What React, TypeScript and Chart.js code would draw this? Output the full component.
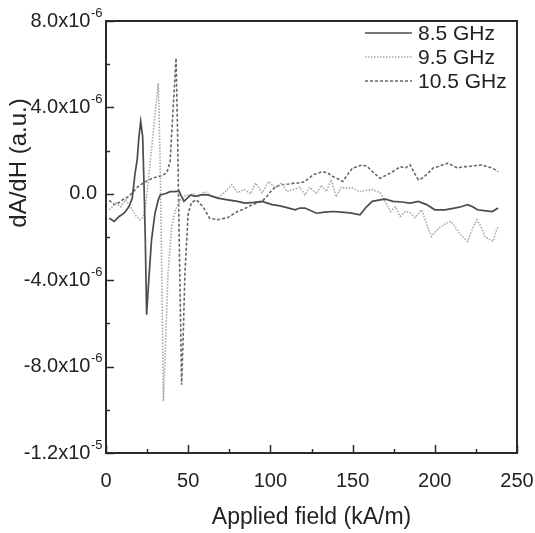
import React, { useEffect, useRef } from "react";
import { Chart, registerables } from "chart.js";

Chart.register(...registerables);

// Applied field (kA/m) and dA/dH in units of 1e-6 (a.u.)
const labels = ["8.5 GHz", "9.5 GHz", "10.5 GHz"];

const field85 = [2, 5, 8, 11, 14, 16, 17.6, 19, 20, 21.1, 22.3, 23.1, 23.9, 24.7, 26.3, 27.7, 29.8, 31.8, 33, 36, 39, 41.4, 44.4, 47.4, 51.5, 54, 58, 62, 68, 74, 80, 84.5, 90, 95, 101, 105, 109, 115, 118, 121, 128, 133, 138, 143, 148.4, 154.5, 158.6, 162, 166.7, 170, 174.6, 180, 185, 190, 195, 200, 206, 212, 216, 220, 223, 226, 230, 235, 238.5];
const dadh85 = [-1.13, -1.28, -1.05, -0.9, -0.59, -0.2, 0.9, 1.6, 2.6, 3.35, 2.65, 0.5, -2.1, -5.6, -3.66, -2.13, -0.9, -0.28, -0.05, 0.0, 0.1, 0.1, 0.12, -0.35, -0.05, -0.12, -0.05, -0.05, -0.2, -0.28, -0.35, -0.43, -0.4, -0.35, -0.5, -0.55, -0.62, -0.74, -0.66, -0.66, -0.9, -0.85, -0.82, -0.85, -0.88, -0.97, -0.59, -0.35, -0.28, -0.25, -0.35, -0.38, -0.43, -0.35, -0.5, -0.74, -0.74, -0.66, -0.6, -0.5, -0.6, -0.74, -0.78, -0.82, -0.66];

const field95 = [2, 6, 9, 12, 16, 18, 20.7, 22.5, 24, 26, 28, 30, 31.8, 32.8, 33.8, 34.9, 36, 37.7, 40, 42, 45, 48, 53, 56, 60, 64, 68, 72, 76.5, 80, 84, 88, 91, 95, 99, 103, 107, 110, 114, 118, 121, 124, 128, 131, 134, 137, 140, 143, 147, 150, 154, 158, 162, 166.7, 170, 173, 176, 179, 182, 185, 188, 192, 195, 198, 201, 204, 207, 210, 213, 216.5, 220, 223, 225.6, 228, 230.5, 233, 235.5, 237, 238.5];
const dadh95 = [-0.74, -0.43, -0.6, -0.28, -0.74, -1.0, -1.2, -1.1, -0.6, 0.8, 2.3, 3.8, 5.12, 2.0, -3.0, -9.6, -7.5, -3.7, -1.5, -0.8, -0.3, -0.1, 0.0, -0.15, 0.1, -0.1, -0.2, 0.05, 0.42, 0.05, 0.2, 0.0, 0.5, 0.05, 0.57, 0.28, 0.5, 0.1, 0.2, 0.3, -0.05, 0.3, 0.0, 0.4, 0.1, 0.65, -0.14, 0.3, 0.25, 0.28, 0.1, 0.15, 0.2, 0.05, -0.4, -0.82, -0.6, -1.05, -0.82, -0.88, -1.1, -0.74, -1.4, -1.97, -1.7, -1.5, -1.35, -1.28, -1.6, -1.97, -2.2, -1.6, -1.2, -1.5, -1.97, -2.1, -2.2, -1.8, -1.5];

const field105 = [2, 5, 8, 10, 14, 16.6, 19.6, 22.7, 25, 28.8, 32, 34.9, 37, 39, 40.5, 42.6, 43.5, 44.5, 46, 47, 48, 50, 52, 55, 59, 63, 68, 74, 80, 84, 89, 95, 98, 101, 104, 107, 111, 115, 118, 121, 126, 132, 135, 138, 141, 144, 147, 150, 156, 159, 162, 166.7, 170, 173, 176, 179, 182, 185, 188, 190, 193, 196, 199, 202, 205, 208, 211, 214, 217, 220, 224, 228.7, 232, 235, 238.5];
const dadh105 = [-0.3, -0.5, -0.4, -0.28, -0.12, 0.1, 0.34, 0.5, 0.6, 0.74, 0.8, 0.88, 0.97, 1.5, 3.5, 6.28, 3.0, -2.0, -8.84, -6.5, -3.7, -0.9, -0.4, -0.28, -0.6, -1.13, -1.2, -1.1, -0.82, -0.7, -0.5, -0.35, -0.1, 0.18, 0.35, 0.42, 0.45, 0.5, 0.5, 0.57, 0.88, 1.03, 0.95, 0.8, 0.7, 0.57, 0.9, 1.19, 1.34, 1.26, 1.03, 0.72, 0.85, 0.96, 1.1, 1.26, 1.19, 1.34, 0.9, 0.65, 0.75, 0.96, 1.2, 1.26, 1.35, 1.42, 1.3, 1.19, 1.25, 1.26, 1.3, 1.34, 1.25, 1.19, 1.03];

const xTicks = [0, 50, 100, 150, 200, 250];
const yTicks = [-12, -8, -4, 0, 4, 8];
const xTitle = "Applied field (kA/m)";
const yTitle = "dA/dH (a.u.)";

const colors = ["#4c4c4c", "#a8a8a8", "#666666"];
const dashes = [[], [1.5, 1.5], [3, 2]];
const widths = [1.7, 1.6, 1.6];

const FONT = "'Liberation Sans', Arial, sans-serif";

function yLabelParts(v: number): [string, string] {
  if (v === 0) return ["0.0", ""];
  if (Math.abs(v) >= 10) return [(v / 10).toFixed(1) + "x10", "-5"];
  return [v.toFixed(1) + "x10", "-6"];
}

const framePlugin = {
  id: "frame",
  afterDraw(chart: any) {
    const ctx = chart.ctx;
    const { left, right, top, bottom } = chart.chartArea;
    const xs = chart.scales.x;
    const ys = chart.scales.y;
    ctx.save();
    ctx.strokeStyle = "#2a2a2a";
    ctx.lineWidth = 2;
    ctx.strokeRect(left, top, right - left, bottom - top);
    ctx.lineWidth = 1.5;
    for (let v = 0; v <= 250; v += 25) {
      const px = Math.round(xs.getPixelForValue(v)) + 0.5;
      const len = v % 50 === 0 ? 8 : 4;
      ctx.beginPath();
      ctx.moveTo(px, bottom);
      ctx.lineTo(px, bottom - len);
      ctx.stroke();
    }
    for (let v = -12; v <= 8; v += 2) {
      const py = Math.round(ys.getPixelForValue(v)) + 0.5;
      const len = v % 4 === 0 ? 8 : 4;
      ctx.beginPath();
      ctx.moveTo(left, py);
      ctx.lineTo(left + len, py);
      ctx.stroke();
    }
    ctx.fillStyle = "#222";
    ctx.font = `20px ${FONT}`;
    ctx.textAlign = "center";
    ctx.textBaseline = "middle";
    xTicks.forEach((v) => {
      ctx.fillText(String(v), xs.getPixelForValue(v), bottom + 28);
    });
    yTicks.forEach((v) => {
      const [main, sup] = yLabelParts(v);
      const py = ys.getPixelForValue(v);
      ctx.font = `20px ${FONT}`;
      ctx.textAlign = "left";
      ctx.textBaseline = "middle";
      if (!sup) {
        const w = ctx.measureText(main).width;
        ctx.fillText(main, 97 - w, py);
      } else {
        const wm = ctx.measureText(main).width;
        ctx.font = `13px ${FONT}`;
        const ws = ctx.measureText(sup).width;
        const x0 = 102 - ws - wm;
        ctx.font = `20px ${FONT}`;
        ctx.fillText(main, x0, py);
        ctx.font = `13px ${FONT}`;
        ctx.fillText(sup, x0 + wm + 0.5, py - 8);
      }
    });
    ctx.font = `23px ${FONT}`;
    ctx.textAlign = "center";
    ctx.textBaseline = "middle";
    ctx.fillText(xTitle, (left + right) / 2, 518);
    ctx.save();
    ctx.font = `24px ${FONT}`;
    ctx.translate(19, 163);
    ctx.rotate(-Math.PI / 2);
    ctx.fillText(yTitle, 0, 0);
    ctx.restore();
    chart.data.datasets.forEach((ds: any, i: number) => {
      const ly = 33 + i * 24;
      ctx.strokeStyle = ds.borderColor;
      ctx.lineWidth = ds.borderWidth;
      ctx.setLineDash(ds.borderDash || []);
      ctx.beginPath();
      ctx.moveTo(365, ly);
      ctx.lineTo(412, ly);
      ctx.stroke();
      ctx.setLineDash([]);
      ctx.fillStyle = "#222";
      ctx.font = `21px ${FONT}`;
      ctx.textAlign = "left";
      ctx.textBaseline = "middle";
      ctx.fillText(ds.label, 418, ly + 1);
    });
    ctx.restore();
  },
};

export default function App() {
  const ref = useRef<HTMLCanvasElement | null>(null);
  useEffect(() => {
    document.body.style.margin = "0";
    const fields = [field85, field95, field105];
    const vals = [dadh85, dadh95, dadh105];
    const chart = new Chart(ref.current!, {
      type: "line",
      data: {
        datasets: labels.map((label, i) => ({
          label,
          data: fields[i].map((x, j) => ({ x, y: vals[i][j] })),
          borderColor: colors[i],
          borderWidth: widths[i],
          borderDash: dashes[i],
          pointRadius: 0,
          tension: 0,
          fill: false,
        })),
      },
      options: {
        responsive: false,
        animation: false,
        devicePixelRatio: 1,
        layout: { padding: { top: 21, right: 18, left: 0, bottom: 0 } },
        plugins: { legend: { display: false }, tooltip: { enabled: false } },
        scales: {
          x: {
            type: "linear",
            min: 0,
            max: 250,
            grid: { display: false, drawTicks: false },
            border: { display: false },
            ticks: { display: false, stepSize: 50 },
            afterFit: (s: any) => { s.height = 80; },
          },
          y: {
            type: "linear",
            min: -12,
            max: 8,
            grid: { display: false, drawTicks: false },
            border: { display: false },
            ticks: { display: false, stepSize: 4 },
            afterFit: (s: any) => { s.width = 106; },
          },
        },
      } as any,
      plugins: [framePlugin],
    });
    return () => chart.destroy();
  }, []);
  return (
    <div style={{ position: "absolute", left: 0, top: 0, width: 535, height: 533, background: "#fff" }}>
      <canvas ref={ref} width={535} height={533} />
    </div>
  );
}
